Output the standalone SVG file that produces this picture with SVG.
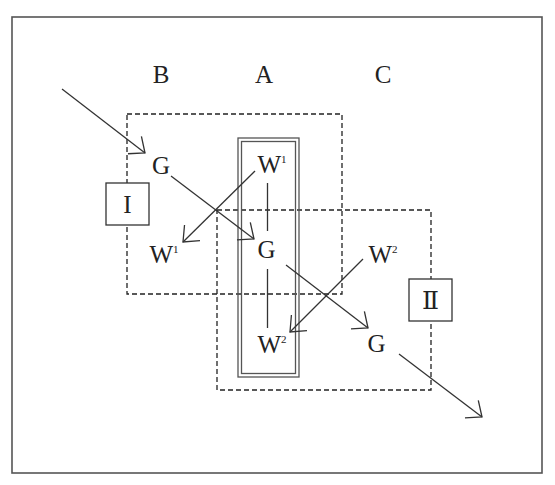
<svg xmlns="http://www.w3.org/2000/svg" width="555" height="485" viewBox="0 0 555 485">
<style>
.lbl{font-family:"Liberation Serif","DejaVu Serif",serif;font-size:25px;fill:#222;text-anchor:middle}
.sup{font-size:11px}
.dash{fill:none;stroke:#222;stroke-width:1.3;stroke-dasharray:5 3}
.box{fill:#fff;stroke:#333;stroke-width:1.3}
.conn{fill:none;stroke:#333;stroke-width:1.3}
.arr{marker-end:url(#open)}
</style>
<defs>
<marker id="open" markerUnits="userSpaceOnUse" orient="auto" refX="0" refY="0" markerWidth="30" markerHeight="30" overflow="visible">
<path d="M -13 -11 L 0 0 L -13 11" fill="none" stroke="#333" stroke-width="1.3"/>
</marker>
</defs>
<rect width="555" height="485" fill="#fff"/>
<rect id="frame" x="12" y="17" width="530" height="456" fill="none" stroke="#555" stroke-width="1.6"/>
<g id="regionI"><rect class="dash" x="127" y="114" width="215" height="180"/></g>
<g id="regionII"><rect class="dash" x="217" y="210" width="214" height="180"/></g>
<g id="zoneA">
<rect x="238" y="138" width="61" height="239" fill="none" stroke="#555" stroke-width="1.3"/>
<rect x="241.5" y="141.5" width="54" height="232" fill="none" stroke="#555" stroke-width="1.3"/>
</g>
<g id="boxI"><rect class="box" x="106" y="183" width="43" height="42"/><text class="lbl" x="127.5" y="213">I</text></g>
<g id="boxII"><rect class="box" x="409" y="279" width="43" height="42"/><text class="lbl" x="430.5" y="309">Ⅱ</text></g>
<g id="labels">
<text class="lbl" x="161" y="83">B</text>
<text class="lbl" x="264" y="83">A</text>
<text class="lbl" x="383" y="83">C</text>
<text id="G-B" class="lbl" x="161" y="174">G</text>
<text id="W1-B" class="lbl" x="164" y="263">W<tspan class="sup" dy="-10">1</tspan></text>
<text id="W1-A" class="lbl" x="272" y="173">W<tspan class="sup" dy="-10">1</tspan></text>
<text id="G-A" class="lbl" x="266.5" y="258">G</text>
<text id="W2-A" class="lbl" x="272" y="353">W<tspan class="sup" dy="-10">2</tspan></text>
<text id="W2-C" class="lbl" x="383" y="263">W<tspan class="sup" dy="-10">2</tspan></text>
<text id="G-C" class="lbl" x="376.5" y="352">G</text>
</g>
<g id="connectors">
<line class="conn arr" x1="62" y1="89" x2="145" y2="153"/>
<line class="conn arr" x1="171" y1="176" x2="254" y2="239"/>
<line class="conn arr" x1="255" y1="171" x2="183" y2="242"/>
<line class="conn" x1="267.5" y1="183" x2="267.5" y2="231"/>
<line class="conn" x1="267.5" y1="269" x2="267.5" y2="328"/>
<line class="conn arr" x1="286" y1="265" x2="368" y2="328"/>
<line class="conn arr" x1="363" y1="259" x2="290" y2="332"/>
<line class="conn arr" x1="399" y1="354" x2="482" y2="417"/>
</g>
</svg>
